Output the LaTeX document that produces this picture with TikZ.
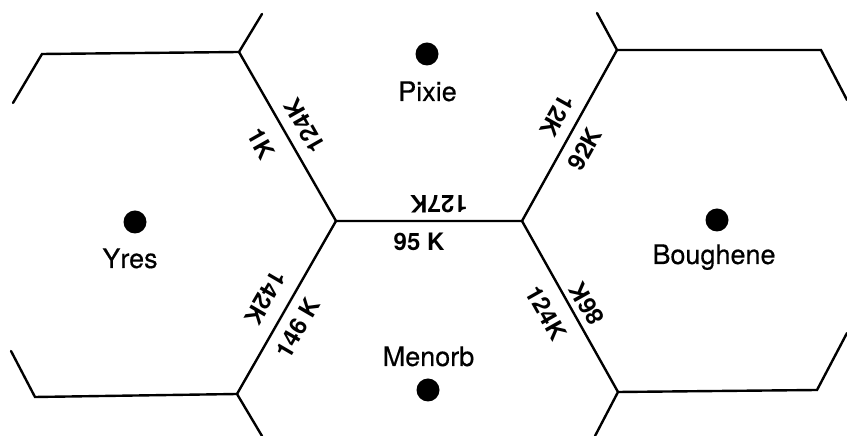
\documentclass[tikz,border=0pt]{standalone}
\usepackage{fontspec}
\setmainfont{TeX Gyre Heros}
\newfontfamily\townfont[FakeBold=0.4]{TeX Gyre Heros}
\begin{document}
\begin{tikzpicture}[x=1pt,y=1pt,
  edge/.style={line width=2.4pt,line cap=round,line join=miter},
  town/.style={circle,fill=black,inner sep=0pt,minimum size=23pt},
  townname/.style={anchor=base,inner sep=0pt,font=\townfont\fontsize{27}{30}\selectfont},
  flow/.style={inner sep=0pt,font=\fontsize{24}{27}\selectfont\bfseries}]
\useasboundingbox (0,0) rectangle (847,436);
% vertices
\coordinate (A) at (336,215);
\coordinate (B) at (522,215);
\coordinate (ul) at (239,384);
\coordinate (ulT) at (262,422);
\coordinate (tl) at (42,382);
\coordinate (tlE) at (13,333);
\coordinate (ur) at (617,386);
\coordinate (urT) at (597,423);
\coordinate (tr) at (821,386);
\coordinate (trE) at (847,336);
\coordinate (ll) at (237,42);
\coordinate (llB) at (262,0);
\coordinate (bl) at (35,39);
\coordinate (blE) at (11,85);
\coordinate (lr) at (618,44);
\coordinate (lrB) at (595,0);
\coordinate (br) at (817,46);
\coordinate (brE) at (847,103);
% edges
\draw[edge] (ul) -- (A) -- (B) -- (ur);
\draw[edge] (A) -- (ll);
\draw[edge] (B) -- (lr);
\draw[edge] (ulT) -- (ul) -- (tl) -- (tlE);
\draw[edge] (urT) -- (ur) -- (tr) -- (trE);
\draw[edge] (llB) -- (ll) -- (bl) -- (blE);
\draw[edge] (lrB) -- (lr) -- (br) -- (brE);
% towns
\node[town] (pixie) at (427,382) {};
\node[town] (yres) at (135,214) {};
\node[town] (boughene) at (717,216) {};
\node[town] (menorb) at (428,46) {};
\node[townname] (pixieL) at (427.5,335) {Pixie};
\node[townname] (yresL) at (130,168) {Yres};
\node[townname] (bougheneL) at (714,172) {Boughene};
\node[townname] (menorbL) at (428.5,70) {Menorb};
% flows
\node[flow,rotate=119.6] (f1) at (304.7,310) {124K};
\node[flow,rotate=-60.4] (f2) at (261.3,292) {1K};
\node[flow,rotate=-119.1] (f3) at (557.3,320) {12K};
\node[flow,rotate=60.9] (f4) at (584.7,287) {92K};
\node[flow,rotate=180] (f5) at (439,232) {127K};
\node[flow] (f6) at (419,194) {95 K};
\node[flow,rotate=-120.2] (f7) at (265.3,138) {142K};
\node[flow,rotate=59.8] (f8) at (297.7,108) {146 K};
\node[flow,rotate=-60.6] (f9) at (546.3,123) {124K};
\node[flow,rotate=119.4] (f10) at (586.7,132) {86K};
\end{tikzpicture}
\end{document}
